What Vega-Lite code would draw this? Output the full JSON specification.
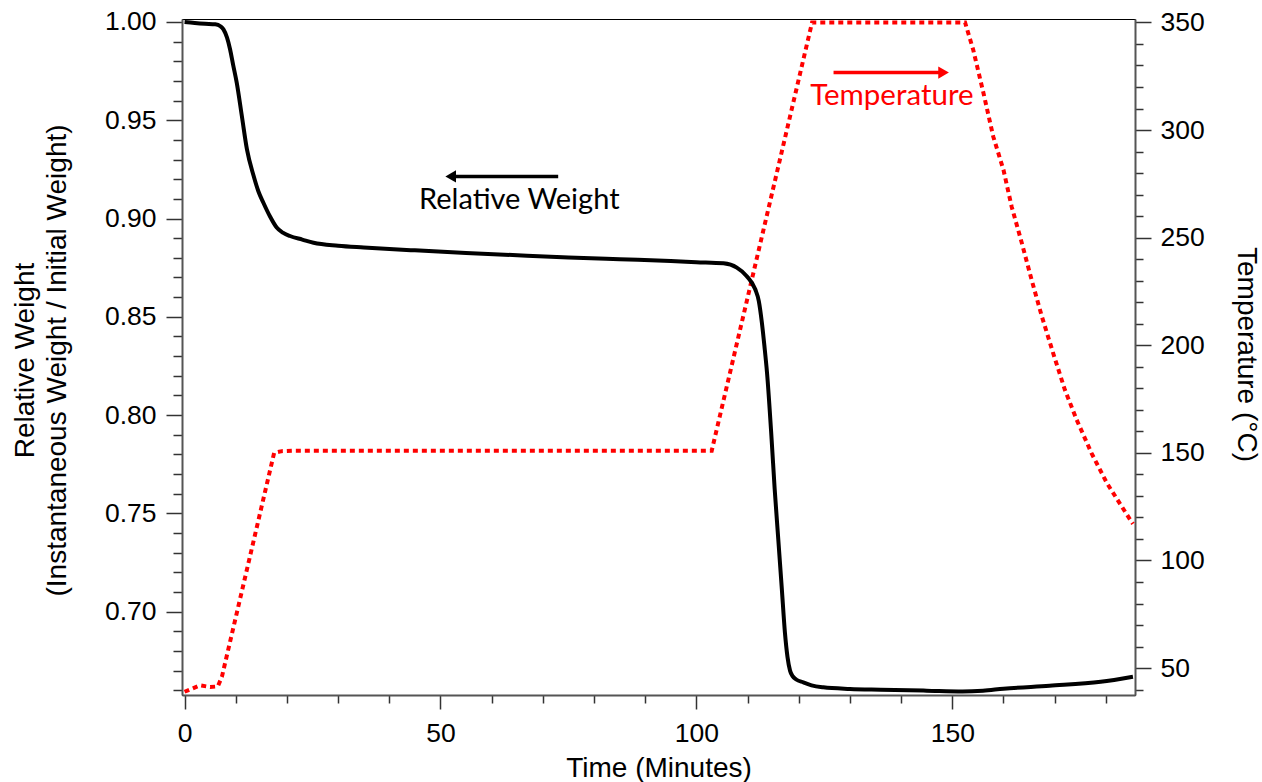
{
  "$schema": "https://vega.github.io/schema/vega-lite/v6.json",
  "autosize": {"type": "none"},
  "width": 953,
  "height": 676,
  "padding": {"left": 182, "top": 19, "right": 127, "bottom": 87},
  "background": "white",
  "config": {
    "view": {"stroke": "black", "strokeWidth": 1},
    "axis": {
      "labelFont": "Liberation Sans",
      "titleFont": "Liberation Sans",
      "labelFontSize": 26.5,
      "titleFontSize": 28,
      "labelColor": "black",
      "titleColor": "black",
      "titleFontWeight": "normal",
      "domainColor": "#555555",
      "domainWidth": 2,
      "tickColor": "#333333",
      "tickWidth": 1.5,
      "grid": false,
      "labelOverlap": false,
      "labelFlush": false,
      "labelBound": false
    }
  },
  "datasets": {
    "weight": [
      {"t": 0, "w": 1.0}, {"t": 2, "w": 0.9995}, {"t": 4, "w": 0.9991}, {"t": 6, "w": 0.9988},
      {"t": 7, "w": 0.9978}, {"t": 7.6, "w": 0.9962}, {"t": 8.3, "w": 0.992}, {"t": 8.9, "w": 0.986},
      {"t": 9.5, "w": 0.978}, {"t": 10.2, "w": 0.969}, {"t": 11.2, "w": 0.952}, {"t": 12.2, "w": 0.935},
      {"t": 13.5, "w": 0.9216}, {"t": 14.4, "w": 0.914}, {"t": 15.4, "w": 0.908}, {"t": 16.7, "w": 0.901},
      {"t": 18.0, "w": 0.8954}, {"t": 19.2, "w": 0.8928}, {"t": 20.6, "w": 0.8911}, {"t": 23, "w": 0.8893},
      {"t": 25.2, "w": 0.8877}, {"t": 30, "w": 0.8862}, {"t": 35, "w": 0.8853}, {"t": 45, "w": 0.8838},
      {"t": 55, "w": 0.8825}, {"t": 65, "w": 0.8813}, {"t": 75, "w": 0.8802}, {"t": 85, "w": 0.8793},
      {"t": 95, "w": 0.8784}, {"t": 100, "w": 0.8778}, {"t": 105.3, "w": 0.8772}, {"t": 107.9, "w": 0.875},
      {"t": 109.8, "w": 0.8708}, {"t": 111.5, "w": 0.864}, {"t": 112.2, "w": 0.858}, {"t": 112.8, "w": 0.847},
      {"t": 113.3, "w": 0.835}, {"t": 113.8, "w": 0.8216}, {"t": 114.7, "w": 0.7877}, {"t": 115.3, "w": 0.7623},
      {"t": 116.0, "w": 0.7369}, {"t": 116.7, "w": 0.7114}, {"t": 117.3, "w": 0.6894}, {"t": 117.8, "w": 0.6770},
      {"t": 118.3, "w": 0.6700}, {"t": 118.8, "w": 0.6672}, {"t": 119.5, "w": 0.6655}, {"t": 120.9, "w": 0.664},
      {"t": 122.5, "w": 0.6625}, {"t": 124.8, "w": 0.6615}, {"t": 130, "w": 0.6607}, {"t": 136, "w": 0.6603},
      {"t": 145, "w": 0.6598}, {"t": 152, "w": 0.6594}, {"t": 156, "w": 0.6598}, {"t": 160, "w": 0.6608},
      {"t": 169, "w": 0.6623}, {"t": 179, "w": 0.6643}, {"t": 185.3, "w": 0.6669}
    ],
    "temp": [
      {"t": 0, "T": 39}, {"t": 1.5, "T": 40.5}, {"t": 3, "T": 42}, {"t": 5, "T": 41.2},
      {"t": 6.5, "T": 41.5}, {"t": 7.3, "T": 46}, {"t": 17.5, "T": 150}, {"t": 19, "T": 150.8},
      {"t": 21, "T": 151}, {"t": 60, "T": 151}, {"t": 103, "T": 151}, {"t": 122.6, "T": 350},
      {"t": 152.5, "T": 350}, {"t": 154.1, "T": 337.2}, {"t": 156.1, "T": 317.1}, {"t": 158.0, "T": 297},
      {"t": 160.0, "T": 281.5}, {"t": 161.6, "T": 264.4}, {"t": 163.6, "T": 247.4}, {"t": 165.5, "T": 230.4},
      {"t": 167.5, "T": 213.4}, {"t": 169.7, "T": 196.4}, {"t": 172.0, "T": 179.3}, {"t": 174.3, "T": 165.4},
      {"t": 177.2, "T": 149.9}, {"t": 180.2, "T": 136}, {"t": 183.1, "T": 125.1}, {"t": 185.3, "T": 117}
    ],
    "weightNote": [{"t": 65.4, "t2": 73, "ta": 53, "th": 52, "w": 0.9214, "wl": 0.9047, "label": "Relative Weight"}],
    "tempNote": [{"t": 138.2, "t2": 126.8, "ta": 147.5, "th": 148.3, "T": 326.7, "Tl": 311.7, "label": "Temperature"}]
  },
  "encoding": {
    "x": {
      "field": "t",
      "type": "quantitative",
      "scale": {"domain": [-0.5, 185.7], "nice": false, "zero": false},
      "axis": {
        "title": "Time (Minutes)",
        "values": [0, 10, 20, 30, 40, 50, 60, 70, 80, 90, 100, 110, 120, 130, 140, 150, 160, 170, 180],
        "tickCount": 100,
        "labelExpr": "datum.value % 50 == 0 ? format(datum.value, 'd') : ''",
        "tickSize": {"condition": {"test": "datum.value % 50 == 0", "value": 14}, "value": 8},
        "labelOverlap": false,
        "labelPadding": 11,
        "titleY": 81,
        "titleBaseline": "alphabetic"
      }
    }
  },
  "layer": [
    {
      "layer": [
        {
          "data": {"name": "temp"},
          "mark": {"type": "line", "color": "#ff0000", "strokeWidth": 4, "strokeDash": [5, 4]},
          "encoding": {
            "y": {
              "field": "T",
              "type": "quantitative",
              "scale": {"domain": [37.5, 351.6], "nice": false, "zero": false},
              "axis": {
                "orient": "right",
                "title": "Temperature (°C)",
                "values": [40, 50, 60, 70, 80, 90, 100, 110, 120, 130, 140, 150, 160, 170, 180, 190, 200, 210, 220, 230, 240, 250, 260, 270, 280, 290, 300, 310, 320, 330, 340, 350],
                "tickCount": 100,
                "labelExpr": "datum.value % 50 == 0 ? format(datum.value, 'd') : ''",
                "tickSize": {"condition": {"test": "datum.value % 50 == 0", "value": 16}, "value": 8},
                "labelOverlap": false,
                "labelPadding": 9,
                "titleAngle": 90,
                "titleX": 102,
                "titleY": 335,
                "titleAlign": "center",
                "titleBaseline": "alphabetic"
              }
            }
          }
        },
        {
          "data": {"name": "tempNote"},
          "mark": {"type": "rule", "color": "#ff0000", "strokeWidth": 3.5},
          "encoding": {"x": {"field": "t2", "type": "quantitative"}, "x2": {"field": "ta"}, "y": {"field": "T", "type": "quantitative"}}
        },
        {
          "data": {"name": "tempNote"},
          "mark": {"type": "point", "shape": "triangle-right", "filled": true, "color": "#ff0000", "size": 150, "opacity": 1},
          "encoding": {"x": {"field": "th", "type": "quantitative"}, "y": {"field": "T", "type": "quantitative"}}
        },
        {
          "data": {"name": "tempNote"},
          "mark": {"type": "text", "color": "#ff0000", "font": "Lato", "fontSize": 29.5, "align": "center", "baseline": "alphabetic"},
          "encoding": {"y": {"field": "Tl", "type": "quantitative"}, "text": {"field": "label"}}
        }
      ]
    },
    {
      "layer": [
        {
          "data": {"name": "weight"},
          "mark": {"type": "line", "color": "black", "strokeWidth": 4, "interpolate": "monotone"},
          "encoding": {
            "y": {
              "field": "w",
              "type": "quantitative",
              "scale": {"domain": [0.6576, 1.0015], "nice": false, "zero": false},
              "axis": {
                "orient": "left",
                "title": ["Relative Weight", "(Instantaneous Weight / Initial Weight)"],
                "values": [0.66, 0.67, 0.68, 0.69, 0.70, 0.71, 0.72, 0.73, 0.74, 0.75, 0.76, 0.77, 0.78, 0.79, 0.80, 0.81, 0.82, 0.83, 0.84, 0.85, 0.86, 0.87, 0.88, 0.89, 0.90, 0.91, 0.92, 0.93, 0.94, 0.95, 0.96, 0.97, 0.98, 0.99, 1.00],
                "tickCount": 100,
                "labelExpr": "round(datum.value * 100) % 5 == 0 ? format(datum.value, '.2f') : ''",
                "tickSize": {"condition": {"test": "round(datum.value * 100) % 5 == 0", "value": 16}, "value": 9},
                "labelOverlap": false,
                "labelPadding": 10,
                "titleAngle": -90,
                "titleX": -149,
                "titleY": 341,
                "titleAlign": "center",
                "titleBaseline": "alphabetic",
                "titleLineHeight": 32
              }
            }
          }
        },
        {
          "data": {"name": "weightNote"},
          "mark": {"type": "rule", "color": "black", "strokeWidth": 3.5},
          "encoding": {"x": {"field": "t2", "type": "quantitative"}, "x2": {"field": "ta"}, "y": {"field": "w", "type": "quantitative"}}
        },
        {
          "data": {"name": "weightNote"},
          "mark": {"type": "point", "shape": "triangle-left", "filled": true, "color": "black", "size": 150, "opacity": 1},
          "encoding": {"x": {"field": "th", "type": "quantitative"}, "y": {"field": "w", "type": "quantitative"}}
        },
        {
          "data": {"name": "weightNote"},
          "mark": {"type": "text", "color": "black", "font": "Lato", "fontSize": 29, "align": "center", "baseline": "alphabetic"},
          "encoding": {"y": {"field": "wl", "type": "quantitative"}, "text": {"field": "label"}}
        }
      ]
    }
  ],
  "resolve": {"scale": {"y": "independent"}}
}
